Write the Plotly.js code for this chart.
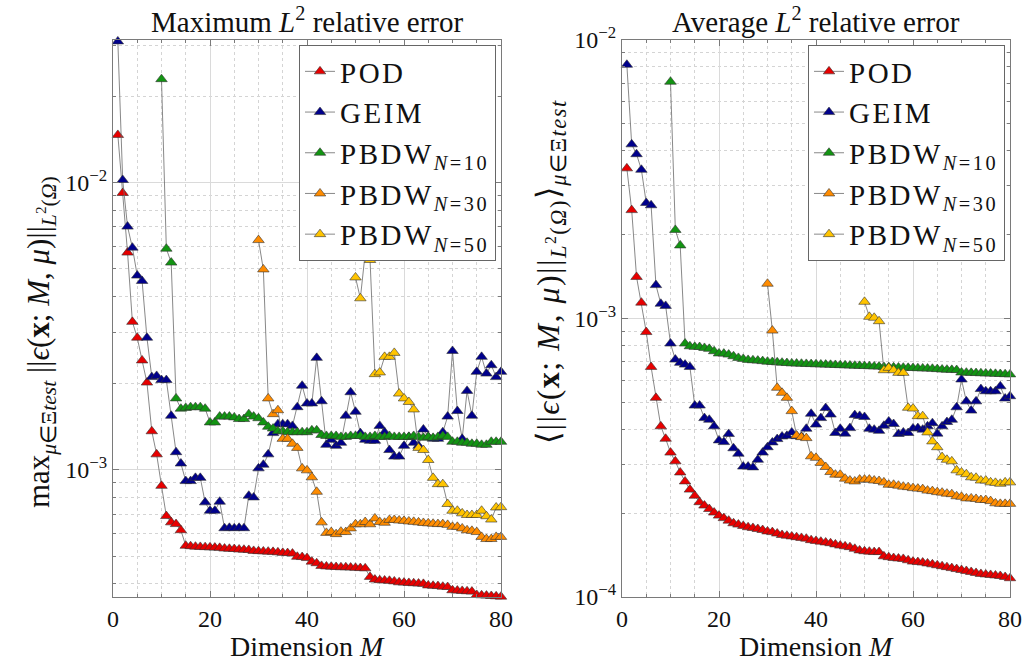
<!DOCTYPE html>
<html>
<head>
<meta charset="utf-8">
<script src="https://cdn.plot.ly/plotly-3.0.1.min.js"></script>
<style>html,body{margin:0;padding:0;background:#fff;}#chart{width:1024px;height:668px;}</style>
</head>
<body>
<div id="chart"></div>
<script>
// ---------- data ----------
// Left panel: maximum L2 relative error
const maxPOD = [0.01464,0.00919,0.00570,0.00327,0.00288,0.00240,0.00201,0.00136,0.00113,0.000878,
 0.000689,0.000655,0.000646,0.000615,0.000543,0.000541,0.000539,0.000538,0.000537,0.000536,
 0.000535,0.000534,0.000531,0.000530,0.000529,0.000527,0.000526,0.000525,0.000521,0.000520,
 0.000519,0.000518,0.000517,0.000515,0.000513,0.000512,0.000510,0.000497,0.000496,0.000492,
 0.000478,0.000472,0.000462,0.000460,0.000459,0.000458,0.000457,0.000457,0.000456,0.000455,
 0.000454,0.000453,0.000423,0.000414,0.000412,0.000411,0.000410,0.000408,0.000405,0.000404,
 0.000403,0.000402,0.000401,0.000400,0.000395,0.000394,0.000393,0.000391,0.000390,0.000380,
 0.000379,0.000378,0.000377,0.000376,0.000366,0.000365,0.000364,0.000363,0.000362,0.000361];
const maxGEIM = [0.0310,0.0102,0.00702,0.00593,0.00474,0.00454,0.00288,0.00210,0.00212,0.00205,
 0.00205,0.00154,0.00115,0.00105,0.000912,0.000912,0.000936,0.000936,0.000769,0.000719,
 0.000719,0.000773,0.000625,0.000627,0.000625,0.000627,0.000625,0.000811,0.000800,0.00101,
 0.00104,0.00113,0.00134,0.00144,0.00144,0.00144,0.00142,0.00165,0.00196,0.00170,
 0.00170,0.00245,0.00173,0.00122,0.00127,0.00121,0.00124,0.00154,0.00186,0.00159,
 0.00134,0.00127,0.00126,0.00126,0.00142,0.00135,0.00117,0.00111,0.00111,0.00121,
 0.00130,0.00124,0.00121,0.00138,0.00130,0.00128,0.00128,0.00135,0.00153,0.00259,
 0.00160,0.00128,0.00188,0.00154,0.00219,0.00247,0.00216,0.00231,0.00210,0.00219];
const maxPBDW10 = [0.0229,0.00588,0.00526,0.00177,0.00163,0.00164,0.00165,0.00165,0.00165,0.00163,
 0.00146,0.00146,0.00153,0.00153,0.00153,0.00152,0.00150,0.00150,0.00156,0.00153,
 0.00151,0.00146,0.00141,0.00139,0.00136,0.00136,0.00135,0.00135,0.00135,0.00135,
 0.00135,0.00137,0.00137,0.00132,0.00131,0.00131,0.00131,0.00130,0.00130,0.00131,
 0.00131,0.00131,0.00130,0.00130,0.00131,0.00130,0.00130,0.00131,0.00130,0.00130,
 0.00130,0.00130,0.00131,0.00130,0.00129,0.00130,0.00129,0.00130,0.00131,0.00130,
 0.00125,0.00125,0.00124,0.00124,0.00123,0.00123,0.00122,0.00122,0.00125,0.00125,0.00125];
const maxPBDW30 = [0.00630,0.00498,0.00177,0.00156,0.00161,0.00128,0.00128,0.00123,0.00119,0.00101,
 0.000994,0.000940,0.000837,0.000655,0.000602,0.000606,0.000596,0.000608,0.000606,0.000624,
 0.000645,0.000645,0.000657,0.000645,0.000676,0.000657,0.000653,0.000668,0.000668,0.000665,
 0.000663,0.000660,0.000658,0.000655,0.000652,0.000650,0.000648,0.000646,0.000646,0.000642,
 0.000632,0.000632,0.000624,0.000615,0.000612,0.000606,0.000583,0.000573,0.000573,0.000583,0.000583];
const maxPBDW50 = [0.00467,0.00395,0.00567,0.00537,0.00215,0.00218,0.00247,0.00247,0.00255,0.00184,
 0.00177,0.00172,0.00162,0.00119,0.00117,0.00108,0.000936,0.000890,0.000890,0.000759,
 0.000719,0.000719,0.000704,0.000695,0.000695,0.000695,0.000719,0.000688,0.000670,0.000738,0.000740];

// Right panel: average L2 relative error
const avgPOD = [3.46e-3,2.45e-3,1.41e-3,1.14e-3,8.94e-4,6.70e-4,5.19e-4,4.10e-4,3.70e-4,3.30e-4,
 3.07e-4,2.80e-4,2.60e-4,2.43e-4,2.31e-4,2.19e-4,2.13e-4,2.07e-4,2.01e-4,1.96e-4,
 1.92e-4,1.88e-4,1.84e-4,1.82e-4,1.80e-4,1.78e-4,1.77e-4,1.755e-4,1.74e-4,1.72e-4,
 1.71e-4,1.69e-4,1.67e-4,1.66e-4,1.65e-4,1.64e-4,1.63e-4,1.62e-4,1.60e-4,1.59e-4,
 1.58e-4,1.57e-4,1.56e-4,1.545e-4,1.53e-4,1.52e-4,1.51e-4,1.49e-4,1.47e-4,1.46e-4,
 1.455e-4,1.45e-4,1.45e-4,1.40e-4,1.39e-4,1.38e-4,1.375e-4,1.37e-4,1.355e-4,1.34e-4,
 1.335e-4,1.33e-4,1.32e-4,1.31e-4,1.30e-4,1.29e-4,1.28e-4,1.27e-4,1.26e-4,1.25e-4,
 1.24e-4,1.23e-4,1.22e-4,1.21e-4,1.205e-4,1.20e-4,1.195e-4,1.19e-4,1.18e-4,1.168e-4];
const avgGEIM = [8.15e-3,4.22e-3,3.89e-3,3.42e-3,2.60e-3,2.55e-3,1.318e-3,1.13e-3,1.11e-3,8.13e-4,
 7.12e-4,6.93e-4,6.83e-4,6.70e-4,4.87e-4,4.87e-4,4.39e-4,4.33e-4,4.10e-4,3.65e-4,
 3.60e-4,3.85e-4,3.42e-4,3.27e-4,2.94e-4,2.94e-4,2.92e-4,3.11e-4,3.30e-4,3.45e-4,
 3.59e-4,3.69e-4,3.77e-4,3.79e-4,3.90e-4,3.78e-4,3.76e-4,4.02e-4,4.55e-4,4.16e-4,
 4.39e-4,4.77e-4,4.52e-4,3.88e-4,4.02e-4,3.86e-4,4.04e-4,4.50e-4,4.47e-4,4.43e-4,
 4.02e-4,3.99e-4,3.95e-4,4.12e-4,4.27e-4,4.18e-4,3.85e-4,3.90e-4,3.88e-4,4.03e-4,
 4.04e-4,3.99e-4,4.10e-4,4.21e-4,3.86e-4,4.10e-4,4.25e-4,4.33e-4,4.80e-4,6.04e-4,
 5.04e-4,4.67e-4,5.04e-4,5.58e-4,5.48e-4,5.48e-4,5.48e-4,5.71e-4,5.16e-4,5.26e-4];
const avgPBDW10 = [7.08e-3,2.08e-3,1.83e-3,8.13e-4,7.95e-4,7.91e-4,7.90e-4,7.84e-4,7.78e-4,7.63e-4,
 7.49e-4,7.48e-4,7.42e-4,7.32e-4,7.22e-4,7.16e-4,7.10e-4,7.08e-4,7.06e-4,7.03e-4,
 7.00e-4,6.98e-4,6.96e-4,6.94e-4,6.92e-4,6.90e-4,6.89e-4,6.88e-4,6.87e-4,6.86e-4,
 6.85e-4,6.84e-4,6.83e-4,6.82e-4,6.81e-4,6.80e-4,6.79e-4,6.78e-4,6.77e-4,6.76e-4,
 6.75e-4,6.74e-4,6.73e-4,6.72e-4,6.70e-4,6.69e-4,6.68e-4,6.67e-4,6.66e-4,6.65e-4,
 6.64e-4,6.63e-4,6.62e-4,6.61e-4,6.60e-4,6.58e-4,6.56e-4,6.55e-4,6.54e-4,6.53e-4,
 6.40e-4,6.39e-4,6.38e-4,6.37e-4,6.36e-4,6.35e-4,6.34e-4,6.33e-4,6.32e-4,6.31e-4,6.30e-4];
const avgPBDW30 = [1.333e-3,9.05e-4,5.64e-4,5.41e-4,5.19e-4,4.65e-4,3.80e-4,3.75e-4,3.72e-4,3.20e-4,
 3.16e-4,3.03e-4,2.93e-4,2.81e-4,2.75e-4,2.75e-4,2.66e-4,2.62e-4,2.60e-4,2.64e-4,
 2.64e-4,2.64e-4,2.62e-4,2.61e-4,2.58e-4,2.53e-4,2.53e-4,2.51e-4,2.49e-4,2.48e-4,
 2.46e-4,2.45e-4,2.44e-4,2.41e-4,2.40e-4,2.38e-4,2.37e-4,2.35e-4,2.34e-4,2.30e-4,
 2.29e-4,2.26e-4,2.26e-4,2.25e-4,2.23e-4,2.23e-4,2.21e-4,2.17e-4,2.16e-4,2.16e-4,2.16e-4];
const avgPBDW50 = [1.148e-3,1.014e-3,1.006e-3,9.78e-4,6.52e-4,6.65e-4,6.52e-4,6.38e-4,6.38e-4,4.78e-4,
 4.75e-4,4.46e-4,4.46e-4,3.90e-4,3.62e-4,3.45e-4,3.18e-4,3.11e-4,3.07e-4,2.85e-4,
 2.80e-4,2.76e-4,2.69e-4,2.68e-4,2.62e-4,2.62e-4,2.58e-4,2.57e-4,2.55e-4,2.58e-4,2.58e-4];

// first dimension M of each series
const startPOD = 1, startGEIM = 1, startN10 = 10, startN30 = 30, startN50 = 50;
const seriesNames = ['POD','GEIM','PBDW<sub><i>N</i>=10</sub>','PBDW<sub><i>N</i>=30</sub>','PBDW<sub><i>N</i>=50</sub>'];
const seriesColors = ['#e80000','#00008c','#129412','#ff8c00','#ffc400'];
const xTicks = [0,20,40,60,80];
const yTicksLeft = [1e-3,1e-2];
const yTextLeft = ['10<sup>−3</sup>','10<sup>−2</sup>'];
const yTicksRight = [1e-4,1e-3,1e-2];
const yTextRight = ['10<sup>−4</sup>','10<sup>−3</sup>','10<sup>−2</sup>'];

// ---------- build ----------
const FONT = 'Liberation Serif, Times New Roman, serif';
function dims(start, n){ const a=[]; for(let i=0;i<n;i++) a.push(start+i); return a; }
const spaced = (s, ls) => '<span style="letter-spacing:' + ls + 'px">' + s + '</span>';

const leftSeries = [maxPOD,maxGEIM,maxPBDW10,maxPBDW30,maxPBDW50];
const rightSeries = [avgPOD,avgGEIM,avgPBDW10,avgPBDW30,avgPBDW50];
const starts = [startPOD,startGEIM,startN10,startN30,startN50];

const traces = [];
function addTraces(series, xa, ya, leg){
  series.forEach((vals,i)=>{
    traces.push({
      x: dims(starts[i], vals.length), y: vals,
      xaxis: xa, yaxis: ya, legend: leg,
      type:'scatter', mode:'lines+markers', name: spaced(seriesNames[i], 2.5),
      cliponaxis:false,
      line:{color:'#6a6a6a', width:0.8},
      marker:{symbol:'triangle-up', size:10, color:seriesColors[i], line:{color:'#333', width:0.6}}
    });
  });
}
addTraces(leftSeries,'x','y','legend');
addTraces(rightSeries,'x2','y2','legend2');

const W=1024,H=668;
const px = v => v/W, py = v => 1 - v/H;

function xax(d0,d1){
  return {domain:[px(d0),px(d1)], range:[0,80], tickmode:'array', tickvals:xTicks,
    showgrid:true, gridcolor:'#dadada', gridwidth:1, zeroline:false,
    showline:true, linecolor:'#7a7a7a', linewidth:1, mirror:'allticks',
    ticks:'inside', ticklen:6, tickcolor:'#7a7a7a',
    tickfont:{family:FONT, size:24, color:'#111'},
    minor:{dtick:5, showgrid:true, gridcolor:'#d4d4d4', griddash:'dot', gridwidth:1, ticks:'inside', ticklen:3, tickcolor:'#7a7a7a'}};
}
function yax(rng, tv, tt, anchor){
  return {type:'log', domain:[py(597),py(40)], range:rng, anchor:anchor,
    tickmode:'array', tickvals:tv, ticktext:tt,
    showgrid:true, gridcolor:'#dadada', gridwidth:1, zeroline:false,
    showline:true, linecolor:'#7a7a7a', linewidth:1, mirror:'allticks',
    ticks:'inside', ticklen:6, tickcolor:'#7a7a7a',
    tickfont:{family:FONT, size:24, color:'#111'},
    minor:{dtick:'D1', showgrid:true, gridcolor:'#d4d4d4', griddash:'dot', gridwidth:1, ticks:'inside', ticklen:3, tickcolor:'#7a7a7a'}};
}
function note(text, x, y, size, angle){
  const a = {text:text, x:px(x), y:py(y), xref:'paper', yref:'paper', xanchor:'center', yanchor:'middle',
    showarrow:false, font:{family:FONT, size:size, color:'#111'}};
  if (angle !== undefined) a.textangle = angle;
  return a;
}
function legendBox(xr){
  return {x:px(xr), y:py(45), xanchor:'right', yanchor:'top', bgcolor:'#fff', bordercolor:'#666', borderwidth:1,
    font:{family:FONT, size:29, color:'#111'}, tracegroupgap:0, itemwidth:30};
}

const layout = {
  width:W, height:H, margin:{l:0,r:0,t:0,b:0},
  paper_bgcolor:'#fff', plot_bgcolor:'#fff',
  font:{family:FONT, color:'#111'},
  xaxis: Object.assign(xax(113,501),{anchor:'y'}),
  yaxis: yax([Math.log10(3.6e-4), Math.log10(0.03135)], yTicksLeft, yTextLeft, 'x'),
  xaxis2: Object.assign(xax(622,1010),{anchor:'y2'}),
  yaxis2: yax([-4,-2], yTicksRight, yTextRight, 'x2'),
  legend: legendBox(496),
  legend2: legendBox(1005),
  annotations:[
    note('Maximum <i>L</i><sup>2</sup> relative error', 307, 20, 29),
    note('Average <i>L</i><sup>2</sup> relative error', 816, 20, 29),
    note('Dimension <i>M</i>', 307, 646, 28),
    note('Dimension <i>M</i>', 816, 646, 28),
    note('max<sub><i>μ</i>∈Ξ<i>test</i></sub> ||<i>ϵ</i>(<b>x</b>; <i>M</i>, <i>μ</i>)||<sub><i>L</i><sup>2</sup>(<i>Ω</i>)</sub>', 41, 342, 31, -90),
    note(spaced('⟨||<i>ϵ</i>(<b>x</b>; <i>M</i>, <i>μ</i>)||<sub><i>L</i><sup>2</sup>(<i>Ω</i>)</sub>⟩<sub><i>μ</i>∈Ξ<i>test</i></sub>', 1.5), 550, 272, 32, -90)
  ]
};

Plotly.newPlot('chart', traces, layout, {displayModeBar:false, staticPlot:true});
</script>
</body>
</html>
